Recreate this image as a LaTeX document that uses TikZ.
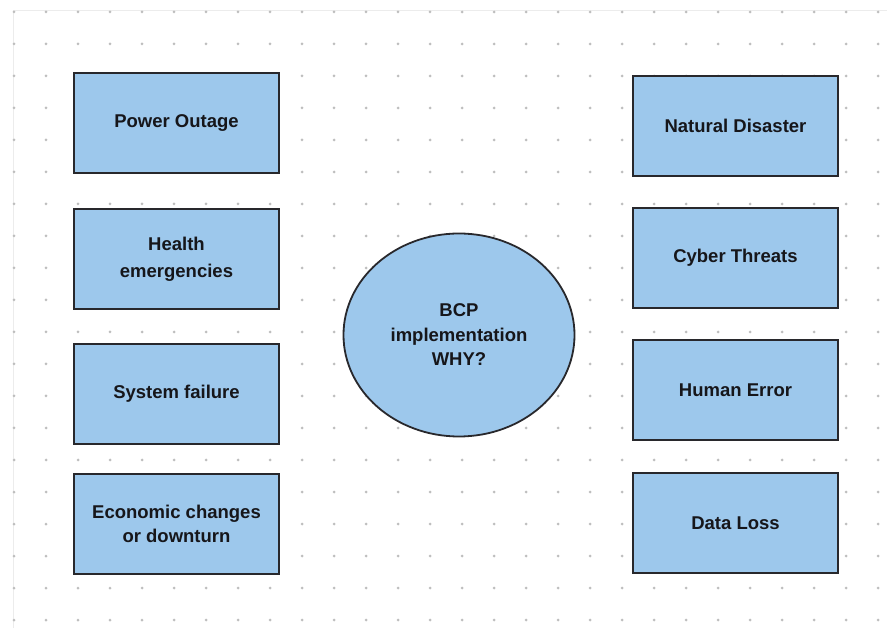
\documentclass[tikz,border=0pt]{standalone}
\usepackage{fontspec}
\setmainfont{Liberation Sans}
\usetikzlibrary{shapes.geometric}
\definecolor{boxfill}{RGB}{157,200,236}
\definecolor{boxline}{RGB}{40,40,44}
\definecolor{dotgray}{RGB}{190,190,190}
\definecolor{txt}{RGB}{22,22,26}
\definecolor{frameline}{RGB}{236,236,236}
\tikzset{
  reason/.style={draw=boxline, line width=1.8pt, fill=boxfill,
    minimum width=205pt, minimum height=100pt, inner sep=0pt,
    align=center, text=txt, font=\fontsize{18.5}{27}\selectfont\bfseries},
  tight/.style={font=\fontsize{18.5}{23.5}\selectfont\bfseries},
  core/.style={ellipse, draw=boxline, line width=1.8pt, fill=boxfill,
    minimum width=231pt, minimum height=203pt, inner sep=0pt,
    align=center, text=txt, font=\fontsize{18.5}{24.5}\selectfont\bfseries},
  griddot/.style={fill=dotgray, draw=none}
}
\begin{document}
\begin{tikzpicture}[x=1pt, y=-1pt]
\useasboundingbox (0,0) rectangle (887,628);
\fill[white] (0,0) rectangle (887,628);
% canvas edge
\draw[frameline, line width=0.8pt] (13,640) -- (13,10) -- (900,10);
% dotted grid
\foreach \i in {0,...,27}{
  \foreach \j in {0,...,19}{
    \fill[griddot] ({14+32*\i},{12+32*\j}) circle (1.5pt);
  }
}
% left column
\node[reason] (power)  at (176.5,123) {Power Outage};
\node[reason] (health) at (176.5,259) {Health\\emergencies};
\node[reason] (system) at (176.5,394) {System failure};
\node[reason, tight] (econ) at (176.5,524) {Economic changes\\or downturn};
% right column
\node[reason] (nature) at (735.5,126) {Natural Disaster};
\node[reason] (cyber)  at (735.5,258) {Cyber Threats};
\node[reason] (human)  at (735.5,390) {Human Error};
\node[reason] (loss)   at (735.5,523) {Data Loss};
% centre
\node[core] (bcp) at (459,335) {BCP\\implementation\\WHY?};
\end{tikzpicture}
\end{document}
